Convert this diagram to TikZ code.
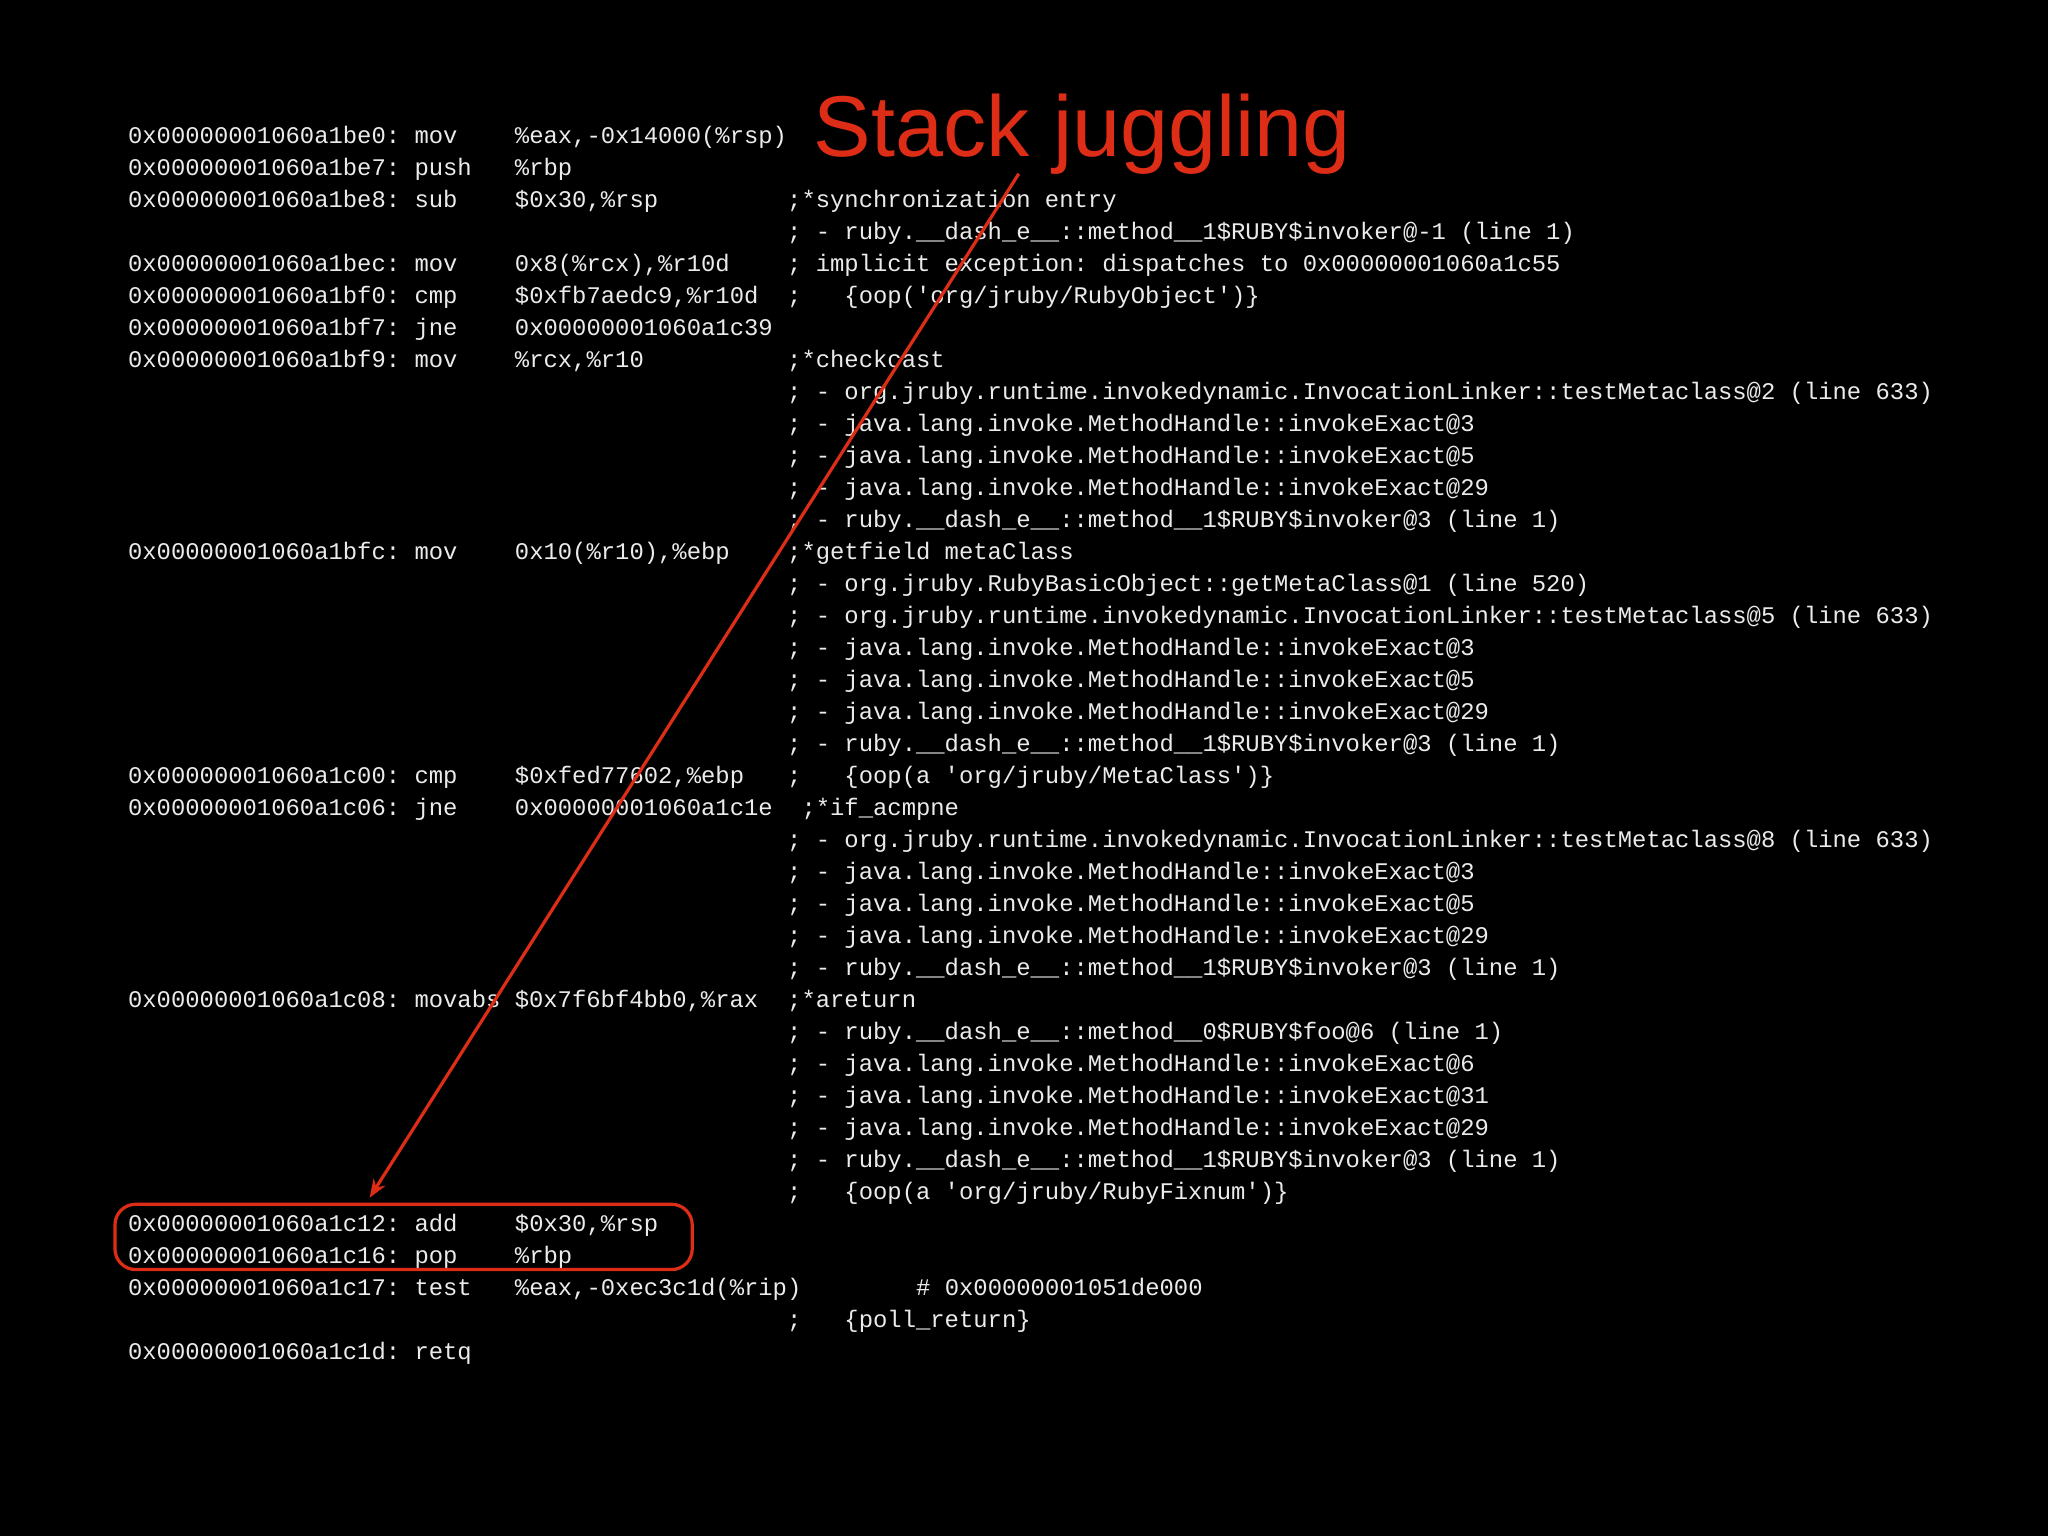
\documentclass[tikz,border=0pt]{standalone}
\usepackage{fontspec}
\usetikzlibrary{arrows.meta}
\setmainfont{Liberation Sans}
\setmonofont{Liberation Mono}
\definecolor{codefg}{RGB}{235,235,235}
\definecolor{hl}{RGB}{222,45,22}
\tikzset{code/.style={anchor=base west,inner sep=0pt,text=codefg,font=\fontsize{52}{60}\selectfont\ttfamily}}
\newcommand\cl[3]{\node[code] at ({98+#2*10.97},{110+#1*24.5}) {#3};}
\begin{document}
\begin{tikzpicture}[x=0.1cm,y=-0.1cm]
\fill[black] (0,0) rectangle (1568,1176);
\useasboundingbox (0,0) rectangle (1568,1176);
\def\A{0x00000001060a1}
\cl{0}{0}{\A be0: mov}\cl{0}{27}{\%eax,-0x14000(\%rsp)}
\cl{1}{0}{\A be7: push}\cl{1}{27}{\%rbp}
\cl{2}{0}{\A be8: sub}\cl{2}{27}{\$0x30,\%rsp}\cl{2}{46}{;*synchronization entry}
\cl{3}{46}{; - ruby.\_\_dash\_e\_\_::method\_\_1\$RUBY\$invoker@-1 (line 1)}
\cl{4}{0}{\A bec: mov}\cl{4}{27}{0x8(\%rcx),\%r10d}\cl{4}{46}{; implicit exception: dispatches to 0x00000001060a1c55}
\cl{5}{0}{\A bf0: cmp}\cl{5}{27}{\$0xfb7aedc9,\%r10d}\cl{5}{46}{;~~~\{oop('org/jruby/RubyObject')\}}
\cl{6}{0}{\A bf7: jne}\cl{6}{27}{0x00000001060a1c39}
\cl{7}{0}{\A bf9: mov}\cl{7}{27}{\%rcx,\%r10}\cl{7}{46}{;*checkcast}
\cl{8}{46}{; - org.jruby.runtime.invokedynamic.InvocationLinker::testMetaclass@2 (line 633)}
\cl{9}{46}{; - java.lang.invoke.MethodHandle::invokeExact@3}
\cl{10}{46}{; - java.lang.invoke.MethodHandle::invokeExact@5}
\cl{11}{46}{; - java.lang.invoke.MethodHandle::invokeExact@29}
\cl{12}{46}{; - ruby.\_\_dash\_e\_\_::method\_\_1\$RUBY\$invoker@3 (line 1)}
\cl{13}{0}{\A bfc: mov}\cl{13}{27}{0x10(\%r10),\%ebp}\cl{13}{46}{;*getfield metaClass}
\cl{14}{46}{; - org.jruby.RubyBasicObject::getMetaClass@1 (line 520)}
\cl{15}{46}{; - org.jruby.runtime.invokedynamic.InvocationLinker::testMetaclass@5 (line 633)}
\cl{16}{46}{; - java.lang.invoke.MethodHandle::invokeExact@3}
\cl{17}{46}{; - java.lang.invoke.MethodHandle::invokeExact@5}
\cl{18}{46}{; - java.lang.invoke.MethodHandle::invokeExact@29}
\cl{19}{46}{; - ruby.\_\_dash\_e\_\_::method\_\_1\$RUBY\$invoker@3 (line 1)}
\cl{20}{0}{\A c00: cmp}\cl{20}{27}{\$0xfed77602,\%ebp}\cl{20}{46}{;~~~\{oop(a 'org/jruby/MetaClass')\}}
\cl{21}{0}{\A c06: jne}\cl{21}{27}{0x00000001060a1c1e}\cl{21}{47}{;*if\_acmpne}
\cl{22}{46}{; - org.jruby.runtime.invokedynamic.InvocationLinker::testMetaclass@8 (line 633)}
\cl{23}{46}{; - java.lang.invoke.MethodHandle::invokeExact@3}
\cl{24}{46}{; - java.lang.invoke.MethodHandle::invokeExact@5}
\cl{25}{46}{; - java.lang.invoke.MethodHandle::invokeExact@29}
\cl{26}{46}{; - ruby.\_\_dash\_e\_\_::method\_\_1\$RUBY\$invoker@3 (line 1)}
\cl{27}{0}{\A c08: movabs \$0x7f6bf4bb0,\%rax}\cl{27}{46}{;*areturn}
\cl{28}{46}{; - ruby.\_\_dash\_e\_\_::method\_\_0\$RUBY\$foo@6 (line 1)}
\cl{29}{46}{; - java.lang.invoke.MethodHandle::invokeExact@6}
\cl{30}{46}{; - java.lang.invoke.MethodHandle::invokeExact@31}
\cl{31}{46}{; - java.lang.invoke.MethodHandle::invokeExact@29}
\cl{32}{46}{; - ruby.\_\_dash\_e\_\_::method\_\_1\$RUBY\$invoker@3 (line 1)}
\cl{33}{46}{;~~~\{oop(a 'org/jruby/RubyFixnum')\}}
\cl{34}{0}{\A c12: add}\cl{34}{27}{\$0x30,\%rsp}
\cl{35}{0}{\A c16: pop}\cl{35}{27}{\%rbp}
\cl{36}{0}{\A c17: test}\cl{36}{27}{\%eax,-0xec3c1d(\%rip)}\cl{36}{55}{\# 0x00000001051de000}
\cl{37}{46}{;~~~\{poll\_return\}}
\cl{38}{0}{\A c1d: retq}
\node[anchor=base west,inner sep=0pt,text=hl,font=\fontsize{188}{200}\selectfont] (title) at (623,120) {Stack juggling};
\node[draw=hl,line width=7pt,rounded corners=45pt,minimum width=44.2cm,minimum height=5.0cm,inner sep=0pt] (box) at (309,947) {};
\coordinate (from) at (780,133);
\coordinate (to) at (283,917);
\draw[hl,line width=7pt,-{Stealth[length=40pt,width=30pt]}] (from) -- (to);
\end{tikzpicture}
\end{document}
